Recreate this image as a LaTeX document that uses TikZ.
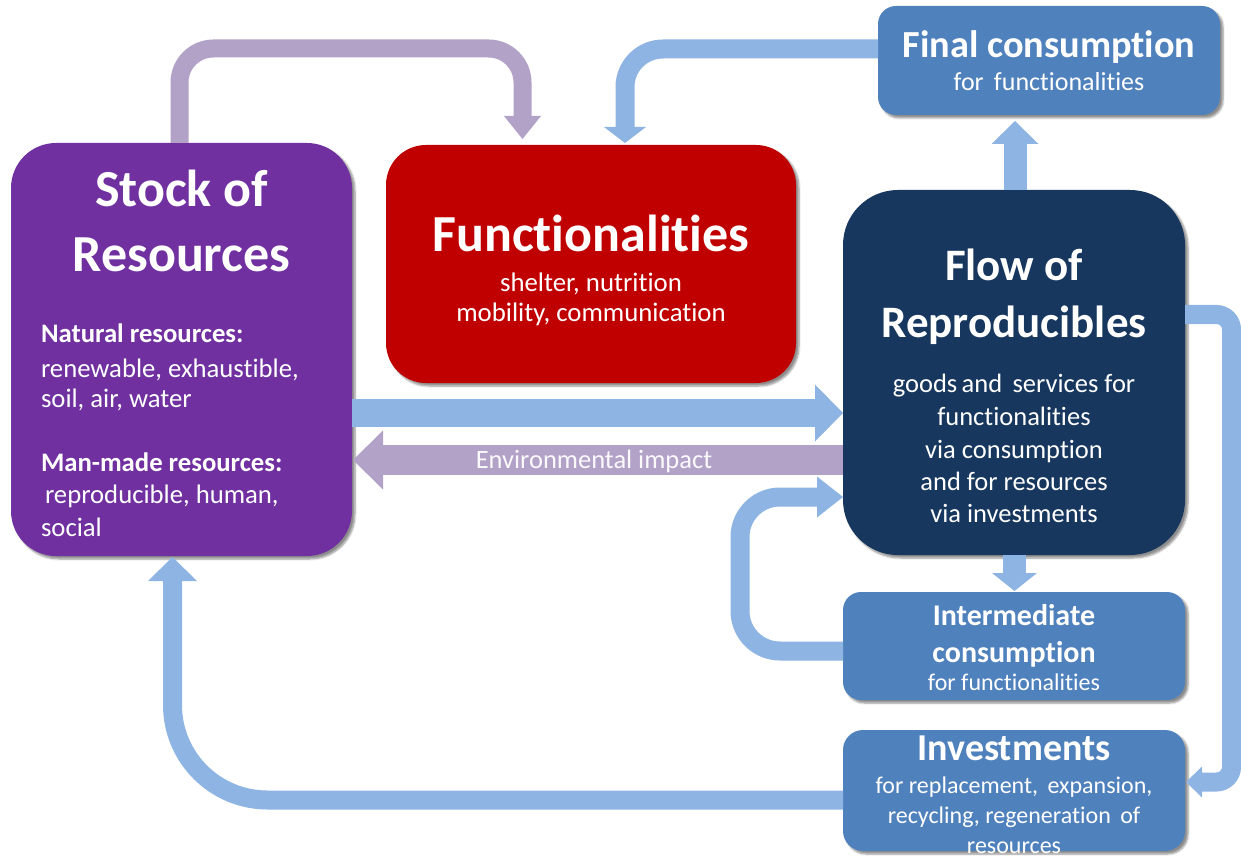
\documentclass[tikz,border=0pt]{standalone}
\usepackage{fontspec}
\setmainfont[RawFeature={-liga}]{Carlito}
\usetikzlibrary{calc,shadows.blur}
\definecolor{cpurple}{HTML}{7030A0}
\definecolor{cred}{HTML}{C00000}
\definecolor{cnavy}{HTML}{17375E}
\definecolor{cbox}{HTML}{4F81BD}
\definecolor{carrow}{HTML}{8EB4E3}
\definecolor{clav}{HTML}{B3A2C7}
\newcommand\fsz[1]{\fontsize{#1}{#1}\selectfont}
\begin{document}
\begin{tikzpicture}[x=1pt,y=-1pt,
  box/.style={rounded corners=#1, inner sep=0pt, outer sep=0pt,
    blur shadow={shadow xshift=3pt, shadow yshift=-3pt, shadow blur steps=6, shadow opacity=45}},
  t/.style={anchor=base, inner sep=0pt, outer sep=0pt, text=white},
  tl/.style={anchor=base west, inner sep=0pt, outer sep=0pt, text=white},
  blueshaft/.style={draw=carrow},
  lavshaft/.style={draw=clav}]
\useasboundingbox (0,0) rectangle (1241,858);

% boxes
\node[box=45pt, fill=cpurple, minimum width=341pt, minimum height=413pt] (stock) at (181.5,349.5) {};
\node[box=40pt, fill=cred, minimum width=410pt, minimum height=238pt] (func) at (591,264) {};
\node[box=55pt, fill=cnavy, minimum width=342pt, minimum height=365pt] (flow) at (1014,372.5) {};
\node[box=18pt, fill=cbox, minimum width=342pt, minimum height=109pt] (final) at (1049,60.5) {};
\node[box=18pt, fill=cbox, minimum width=342pt, minimum height=108pt] (inter) at (1014,646) {};
\node[box=20pt, fill=cbox, minimum width=342pt, minimum height=121pt] (invest) at (1014,790.5) {};

% arrows
\coordinate (a1tip) at (522.5,139);
\draw[lavshaft, line width=18pt, rounded corners=34pt] ($(stock.north)+(-2,0)$) -- (179.5,48.5) -- (522.5,48.5) -- ($(a1tip)+(0,-22)$);
\fill[clav] (a1tip) -- ++(-18.5,-23) -- ++(37,0) -- cycle;

\coordinate (a2tip) at (625,143);
\draw[blueshaft, line width=19pt, rounded corners=38pt] ($(final.west)+(0,-11.5)$) -- (625,49) -- ($(a2tip)+(0,-15)$);
\fill[carrow] (a2tip) -- ++(-21,-16) -- ++(42,0) -- cycle;

\coordinate (a3tip) at (1015,121);
\draw[blueshaft, line width=23pt] (flow.north -| a3tip) -- ($(a3tip)+(0,23)$);
\fill[carrow] (a3tip) -- ++(-23.5,23) -- ++(47,0) -- cycle;

\coordinate (a4tip) at (843,413);
\draw[blueshaft, line width=28pt] (stock.east |- a4tip) -- ($(a4tip)+(-27,0)$);
\fill[carrow] (a4tip) -- ++(-28,-28.5) -- ++(0,57) -- cycle;

\coordinate (a5tip) at (353,460);
\draw[lavshaft, line width=30pt] (flow.west |- a5tip) -- ($(a5tip)+(29,0)$);
\fill[clav] (a5tip) -- ++(30,-29.5) -- ++(0,59) -- cycle;
\node[t, text=white!94!clav, font=\fsz{26.5}] (envT) at (594,468) {Environmental impact};

\coordinate (a6tip) at (843,497);
\draw[blueshaft, line width=19pt, rounded corners=40pt] ($(inter.west)+(0,5)$) -- (740,651) -- (740,497) -- ($(a6tip)+(-25,0)$);
\fill[carrow] (a6tip) -- ++(-26,-20.5) -- ++(0,41) -- cycle;

\coordinate (a7tip) at (1014.5,591);
\draw[blueshaft, line width=23pt] (flow.south -| a7tip) -- ($(a7tip)+(0,-17)$);
\fill[carrow] (a7tip) -- ++(-22.5,-18) -- ++(45,0) -- cycle;

\coordinate (a8tip) at (1186,782);
\draw[blueshaft, line width=19pt, rounded corners=15pt] ($(flow.east)+(0,-58)$) -- (1231.5,314.5) -- (1231.5,782) -- ($(a8tip)+(15,0)$);
\fill[carrow] (a8tip) -- ++(16,-15.5) -- ++(0,31) -- cycle;

\coordinate (a9tip) at (172.5,557);
\draw[blueshaft, line width=19pt, rounded corners=95pt] ($(invest.west)+(0,9.5)$) -- (172.5,800) -- ($(a9tip)+(0,23)$);
\fill[carrow] (a9tip) -- ++(-24.5,24) -- ++(49,0) -- cycle;

% texts: stock
\node[t, font=\bfseries\fsz{52}] (s1) at (181.5,207) {Stock of};
\node[t, font=\bfseries\fsz{52}] (s2) at (181.5,272) {Resources};
\node[tl, font=\bfseries\fsz{26.7}] (s3) at (41,342) {Natural resources:};
\node[tl, font=\fsz{26.7}] (s4) at (41,377) {renewable, exhaustible,};
\node[tl, font=\fsz{26.7}] (s5) at (41,407) {soil, air, water};
\node[tl, font=\bfseries\fsz{26.7}] (s6) at (41,471) {Man-made resources:};
\node[tl, font=\fsz{26.7}] (s7) at (45,503) {reproducible, human,};
\node[tl, font=\fsz{26.7}] (s8) at (41,536) {social};

% functionalities
\node[t, font=\bfseries\fsz{52}] (f1) at (591,252) {Functionalities};
\node[t, font=\fsz{26.8}] (f2) at (591,291) {shelter, nutrition};
\node[t, font=\fsz{26.8}] (f3) at (591,322) {mobility, communication};

% flow
\node[t, font=\bfseries\fsz{45}] (r1) at (1014,281) {Flow of};
\node[t, font=\bfseries\fsz{45}] (r2) at (1014,337) {Reproducibles};
\node[t, font=\fsz{26.5}] (r3) at (1014,392) {goods\,and\, services for};
\node[t, font=\fsz{26.5}] (r4) at (1014,425) {functionalities};
\node[t, font=\fsz{26.5}] (r5) at (1014,458) {via consumption};
\node[t, font=\fsz{26.5}] (r6) at (1014,490) {and for resources};
\node[t, font=\fsz{26.5}] (r7) at (1014,522) {via investments};

% final consumption
\node[t, font=\bfseries\fsz{38.3}] (c1) at (1049,58) {Final consumption};
\node[t, font=\fsz{26}] (c2) at (1049,91) {for\, functionalities};

% intermediate
\node[t, font=\bfseries\fsz{30}] (i1) at (1014,625) {Intermediate};
\node[t, font=\bfseries\fsz{30}] (i2) at (1014,662) {consumption};
\node[t, font=\fsz{24}] (i3) at (1014,690) {for functionalities};

% investments
\node[t, font=\bfseries\fsz{38}] (v1) at (1014,760) {Investments};
\node[t, font=\fsz{24}] (v2) at (1014,793) {for replacement,\, expansion,};
\node[t, font=\fsz{24}] (v3) at (1014,823) {recycling, regeneration\, of};
\node[t, font=\fsz{24}] (v4) at (1014,853) {resources};
\end{tikzpicture}
\end{document}
